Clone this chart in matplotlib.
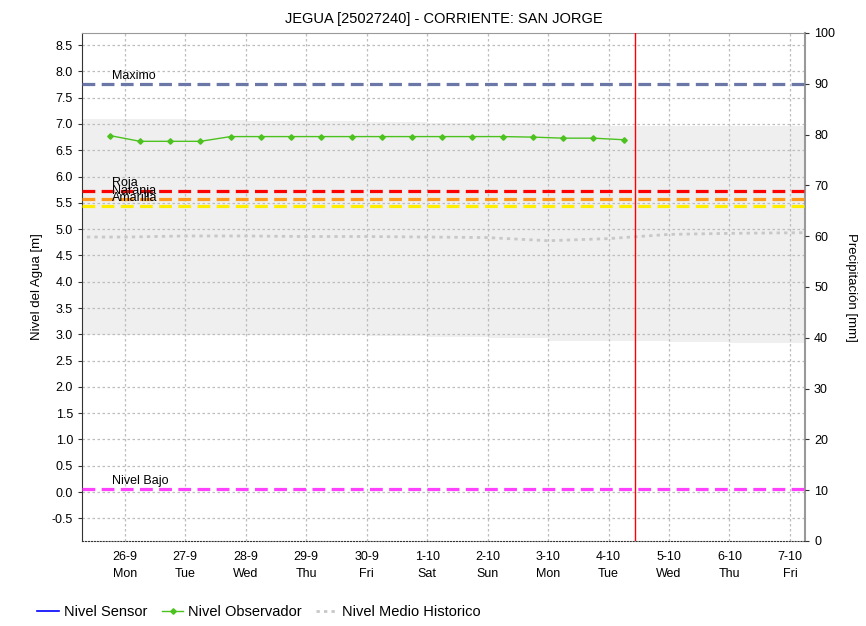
import matplotlib.pyplot as plt
import matplotlib.dates as mdates
from matplotlib.lines import Line2D
import pandas as pd

plt.rcParams['font.family'] = ['Liberation Sans', 'DejaVu Sans']

# nivel observador, cada 12 horas
obs_times = pd.date_range("2022-09-25 18:00", periods=18, freq="12h")
obs_values = [6.78, 6.67, 6.67, 6.67, 6.76, 6.76, 6.76, 6.76, 6.76,
              6.76, 6.76, 6.76, 6.76, 6.76, 6.75, 6.73, 6.73, 6.70]

# historico diario
hist_days = pd.date_range("2022-09-25", "2022-10-08", freq="D")
hist_max = [7.09, 7.09, 7.07, 7.06, 7.05, 7.04, 7.02, 7.01, 6.99, 6.97, 6.96, 6.96, 6.96, 6.96]
hist_min = [2.98, 2.98, 2.98, 2.98, 2.98, 2.97, 2.95, 2.93, 2.88, 2.87, 2.86, 2.83, 2.83, 2.83]
hist_mean = [4.85, 4.85, 4.87, 4.87, 4.86, 4.86, 4.85, 4.84, 4.78, 4.82, 4.90, 4.92, 4.93, 4.94]

# umbrales
umbral_names = ["Maximo", "Roja", "Naranja", "Amarilla", "Nivel Bajo"]
umbral_values = [7.76, 5.72, 5.57, 5.44, 0.06]
umbral_colors = ["#6b77a6", "#ff0000", "#ff9a1a", "#ffee00", "#ff40ff"]

now = pd.Timestamp("2022-10-04 10:20")

fig = plt.figure(figsize=(8.66, 6.26), dpi=100)
ax = fig.add_axes([0.0947, 0.1358, 0.8349, 0.8115])

ax.fill_between(hist_days, hist_min, hist_max, step="post", color="#efefef", lw=0, zorder=1)
ax.plot(hist_days, hist_mean, color="#c8c8c8", lw=2, ls=(0, (1.2, 1.5)), zorder=2)

for name, val, col in zip(umbral_names, umbral_values, umbral_colors):
    ax.axhline(val, color=col, lw=2.3, ls=(0, (4, 2)), zorder=3)
    ax.text(pd.Timestamp("2022-09-25 19:00"), val + 0.04, name, fontsize=9,
            va="bottom", ha="left", zorder=5)

ax.plot(obs_times, obs_values, color="#4cc21f", lw=1, marker="D", ms=2.8, zorder=4)
ax.axvline(now, color="#ff0000", lw=1, zorder=4)

ax.set_xlim(pd.Timestamp("2022-09-25 07:00"), pd.Timestamp("2022-10-07 06:00"))
ax.set_ylim(-0.93, 8.73)
ax.set_yticks([i * 0.5 for i in range(-1, 18)])
ax.yaxis.set_major_formatter(plt.FormatStrFormatter("%.1f"))
ax.xaxis.set_major_locator(mdates.DayLocator())
ax.xaxis.set_major_formatter(plt.FuncFormatter(
    lambda x, pos: "{}-{}\n{}".format(mdates.num2date(x).day, mdates.num2date(x).month,
                                      mdates.num2date(x).strftime("%a"))))
ax.tick_params(labelsize=9, length=3, color="#333333")
ax.tick_params(axis="x", length=0, pad=7)
for lbl in ax.get_xticklabels():
    lbl.set_linespacing(1.6)
ax.grid(True, color="#bdbdbd", ls=(0, (2, 2)), lw=0.9)
ax.set_ylabel("Nivel del Agua [m]", fontsize=9.5, labelpad=6)

ax.spines["left"].set_color("#333333")
ax.spines["bottom"].set_linestyle(":")
ax.spines["bottom"].set_color("#333333")
ax.spines["top"].set_color("#999999")
ax.spines["right"].set_color("#999999")
ax.spines["right"].set_linewidth(1.5)

ax2 = ax.twinx()
ax2.set_ylim(0, 100)
ax2.set_yticks(range(0, 101, 10))
ax2.tick_params(labelsize=9, length=3, color="#333333")
ax2.set_ylabel("Precipitación [mm]", fontsize=9.5, rotation=-90, labelpad=16)
for s in ax2.spines.values():
    s.set_visible(False)

ax.set_title("JEGUA [25027240] - CORRIENTE: SAN JORGE", fontsize=10.5, pad=7)

handles = [
    Line2D([], [], color="#0000ff", lw=1.2),
    Line2D([], [], color="#4cc21f", lw=1, marker="D", ms=2.8),
    Line2D([], [], color="#c8c8c8", lw=2, ls=(0, (1.2, 1.5))),
]
fig.legend(handles, ["Nivel Sensor", "Nivel Observador", "Nivel Medio Historico"],
           loc="lower left", bbox_to_anchor=(0.028, -0.01), ncol=3, frameon=False,
           fontsize=10.5, handlelength=1.5, handletextpad=0.3, columnspacing=1.0)

fig.savefig("out.png", dpi=100)
